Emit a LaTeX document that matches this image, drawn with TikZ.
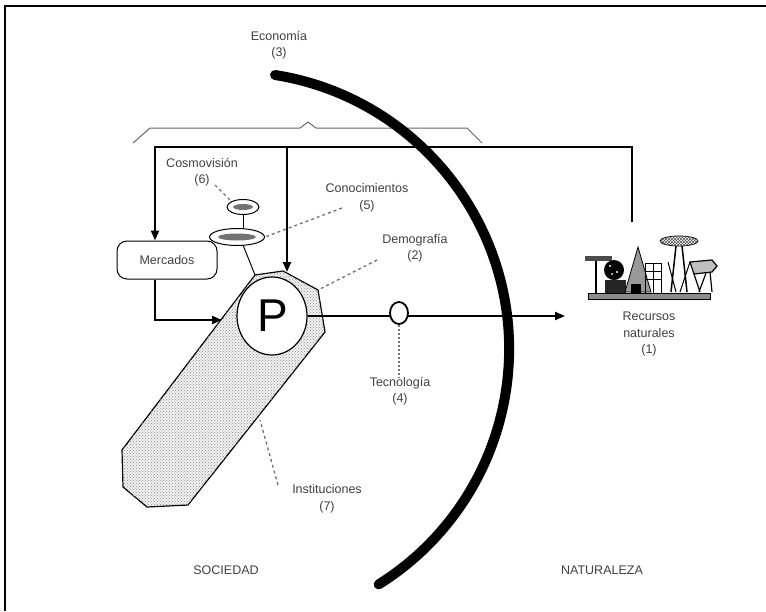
\documentclass[tikz,border=0pt]{standalone}
\usepackage{fontspec}
\setmainfont{Liberation Sans}
\usetikzlibrary{arrows.meta,patterns,shapes.geometric}
\begin{document}
\begin{tikzpicture}[x=1pt,y=-1pt,
  lbl/.style={font=\fontsize{12.5}{16.5}\selectfont, text=black!75, align=center, inner sep=0pt},
  conn/.style={line width=2.2pt, draw=black},
  arr/.style={-{Triangle[length=10pt,width=8pt]}},
  leader/.style={draw=black!55, line width=1.3pt, dash pattern=on 3pt off 3pt},
  ring/.style={draw=black, line width=1pt, fill=white},
]
\useasboundingbox (0,0) rectangle (766,611);
\fill[white] (0,0) rectangle (766,611);
% frame (top and left edges)
\draw[line width=2.5pt] (5,611) -- (5,6) -- (766,6);

% brace
\draw[black!60, line width=1pt] (133,143) -- (150,128) -- (300,128) -- (308,122) -- (316,128) -- (467,128) -- (482,143);

% big arc (Economia)
\draw[line width=10pt, line cap=round] (275,75) arc[start angle=-81, end angle=58, radius=277.5];

% institutions bar with demography octagon
\draw[line width=1.2pt, fill=black!6, postaction={pattern=crosshatch dots, pattern color=black!45}]
  (255,275) -- (283,271) -- (318,290) -- (325,332) -- (188,505) -- (147,507) -- (123,487) -- (122,450) -- cycle;
\coordinate (octTL) at (255,275);
\coordinate (octT) at (287,272);
\coordinate (octTR) at (320,289);
\coordinate (barL) at (222,320);
\coordinate (barR) at (260,420);

% P
\node[draw, ellipse, minimum width=70pt, minimum height=78pt, fill=white, line width=1.2pt] (P) at (272,316) {};
\node[font=\fontsize{46}{46}\selectfont, inner sep=0pt] (Ptxt) at (273,316) {P};

% Mercados
\node[draw, rounded corners=10pt, minimum width=100pt, minimum height=38pt, line width=1pt, lbl] (merc) at (167,260) {Mercados};

% feedback loop
\coordinate (natTop) at (632,222);
\coordinate (fbR) at (632,147);
\coordinate (fbL) at (155,147);
\coordinate (fbM) at (287,147);
\draw[conn, arr] (natTop) -- (fbR) -- (fbL) -- (fbL |- merc.north);
\draw[conn, arr] (fbM) -- (octT);
\draw[conn, arr] (fbL |- merc.south) |- (barL);

% main arrow to nature
\coordinate (natArrow) at (565,316);
\draw[line width=2pt, arr] (P.east) -- (natArrow);

% Tecnologia
\node[draw, ellipse, minimum width=18pt, minimum height=22pt, fill=white, line width=1.8pt, inner sep=0pt] (tec) at (399,313) {};
\node[lbl] (tecl) at (400,391) {Tecnología\\(4)};
\draw[leader, dash pattern=on 2pt off 2pt] (tec.south) -- (399,377);

% Cosmovision / Conocimientos ellipses
\node[ring, ellipse, minimum width=32pt, minimum height=15pt, inner sep=0pt] (cos) at (243,207) {};
\fill[black!55] (243,207) ellipse[x radius=10, y radius=3];
\node[ring, ellipse, minimum width=55pt, minimum height=17pt, inner sep=0pt] (con) at (237,237) {};
\fill[black!55] (237,237) ellipse[x radius=19, y radius=3.5];
\draw[line width=1pt] (cos.south) -- (cos.south |- con.north);
\draw[line width=1pt] (243,245) -- (octTL);

% labels
\node[lbl] (eco) at (279,45) {Economía\\(3)};
\node[lbl] (cosl) at (202,172) {Cosmovisión\\(6)};
\node[lbl] (conl) at (367,198) {Conocimientos\\(5)};
\node[lbl] (deml) at (415,248) {Demografía\\(2)};
\node[lbl] (insl) at (327,499) {Instituciones\\(7)};
\node[lbl] (recl) at (649,334) {Recursos\\naturales\\(1)};
\node[lbl] (soc) at (226,570) {SOCIEDAD};
\node[lbl] (nat) at (602,570) {NATURALEZA};

% leaders
\draw[leader] (215,185) -- (cos.north west);
\draw[leader] (342,208) -- (con.east);
\draw[leader] (377,260) -- (octTR);
\draw[leader] (278,485) -- (barR);

% natural resources icon
\begin{scope}
\draw[line width=0.8pt, fill=black!45] (588,293) rectangle (710,299);
\fill[black!70] (585,256) rectangle (612,261);
\draw[line width=2pt] (596,261) -- (596,293);
\fill[black] (614,270) circle[radius=10];
\fill[white] (610,266) circle[radius=1.2] (617,272) circle[radius=1.2] (612,274) circle[radius=1];
\fill[black!85] (605,280) rectangle (626,293);
\draw[fill=black!40, line width=0.8pt] (638,247) -- (651,292) -- (625,292) -- cycle;
\fill[black] (631,284) rectangle (641,293);
\draw[line width=1pt] (645,263) rectangle (661,279);
\draw[line width=0.8pt] (653,263) -- (653,279) (645,271) -- (661,271);
\draw[line width=1pt] (645,279) -- (645,293) (661,279) -- (661,293) (653,279) -- (653,293);
\draw[line width=0.8pt, fill=white, postaction={pattern=crosshatch, pattern color=black!70}] (679,241) ellipse[x radius=19, y radius=5];
\draw[line width=1.5pt] (676,246) -- (671,292) (682,246) -- (687,292);
\draw[line width=1pt] (668,262) -- (676,292) (690,262) -- (680,292);
\draw[line width=1.2pt, fill=black!25] (690,262) -- (712,260) -- (717,266) -- (712,272) -- (694,274) -- cycle;
\draw[line width=1.2pt] (694,274) -- (700,292) (706,273) -- (699,292) (710,272) -- (712,292);
\end{scope}
\end{tikzpicture}
\end{document}
